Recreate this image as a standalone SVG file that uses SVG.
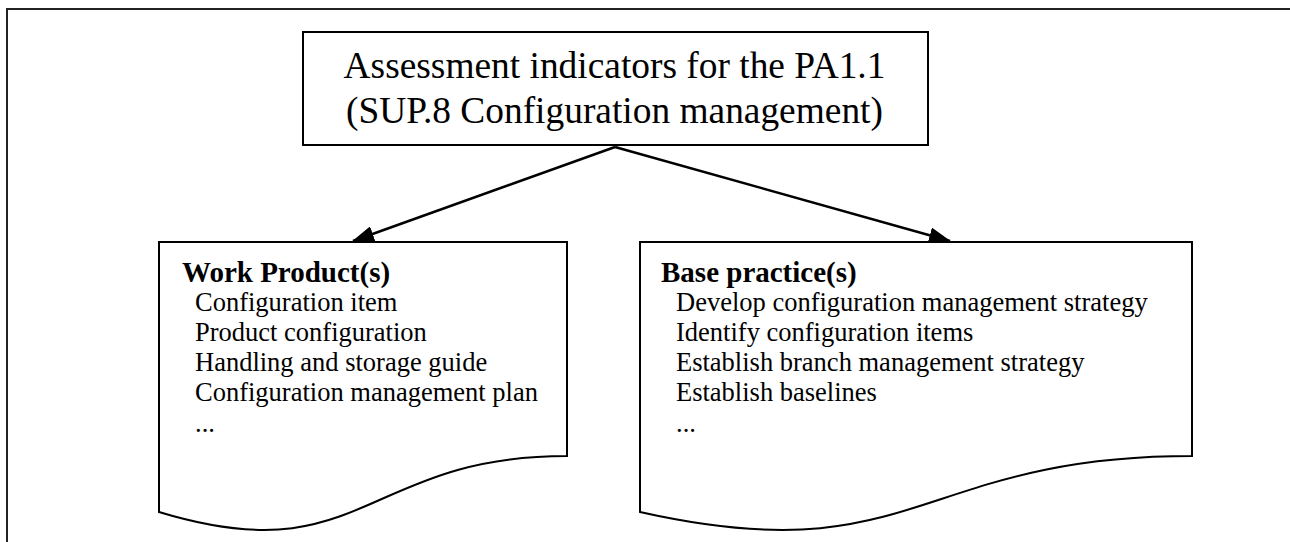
<svg xmlns="http://www.w3.org/2000/svg" width="1290" height="542" viewBox="0 0 1290 542">
<style>
.box{fill:#fff;stroke:#000;stroke-width:2}
.frame{fill:#fff;stroke:#222;stroke-width:2}
.t{font-family:"Liberation Serif","Times New Roman",serif;fill:#000}
.title{font-size:37.4px}
.h{font-size:29px;font-weight:bold}
.i{font-size:26.5px}
.con{stroke:#000;stroke-width:2.5;fill:none}
</style>
<defs>
<marker id="ah2" markerWidth="22" markerHeight="16" refX="21" refY="8" orient="auto" markerUnits="userSpaceOnUse" viewBox="0 0 22 16">
<path d="M0,0 L22,8 L0,16 Z" fill="#000"/>
</marker>
</defs>
<rect class="frame" x="7" y="9" width="1300" height="600"/>
<g id="top">
<rect class="box" x="303" y="32" width="625" height="113"/>
<text class="t title" x="614.5" y="78" text-anchor="middle">Assessment indicators for the PA1.1</text>
<text class="t title" x="614.5" y="123" text-anchor="middle">(SUP.8 Configuration management)</text>
</g>
<g id="work-products">
<path class="box" d="M159,242 H567 V456 C363,456 363,574 159,512 Z"/>
<text class="t h" x="182" y="282">Work Product(s)</text>
<text class="t i" x="195" y="311">Configuration item</text>
<text class="t i" x="195" y="341">Product configuration</text>
<text class="t i" x="195" y="371">Handling and storage guide</text>
<text class="t i" x="195" y="401">Configuration management plan</text>
<text class="t i" x="195" y="432">...</text>
</g>
<g id="base-practices">
<path class="box" d="M640,242 H1192 V456 C916,456 916,574 640,512 Z"/>
<text class="t h" x="661" y="282">Base practice(s)</text>
<text class="t i" x="676" y="311">Develop configuration management strategy</text>
<text class="t i" x="676" y="341">Identify configuration items</text>
<text class="t i" x="676" y="371">Establish branch management strategy</text>
<text class="t i" x="676" y="401">Establish baselines</text>
<text class="t i" x="676" y="432">...</text>
</g>
<g id="connectors">
<line class="con" x1="615" y1="147" x2="353" y2="241" marker-end="url(#ah2)"/>
<line class="con" x1="615" y1="147" x2="950" y2="241" marker-end="url(#ah2)"/>
</g>
</svg>
